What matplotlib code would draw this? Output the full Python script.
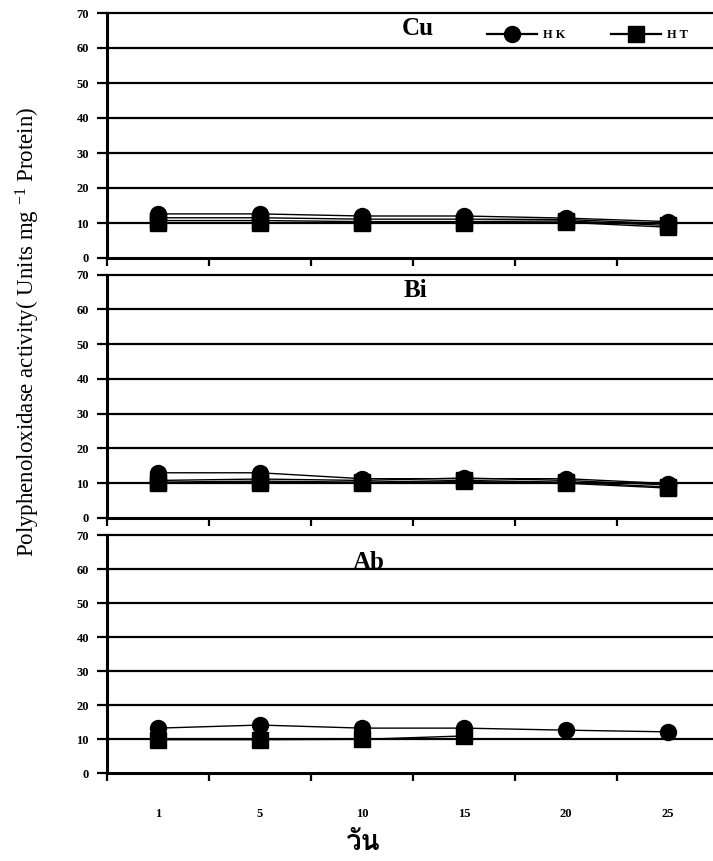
import matplotlib
matplotlib.use("Agg")
import matplotlib.pyplot as plt
from matplotlib import font_manager
from matplotlib.ft2font import FT2Font
from matplotlib.lines import Line2D
import numpy as np

# ---- data -------------------------------------------------------------
days = ["1", "5", "10", "15", "20", "25"]
panels = ["Cu", "Bi", "Ab"]

cu_hk = [12.6, 12.6, 12.0, 12.0, 11.4, 10.4]
cu_hk2 = [11.5, 11.5, 11.1, 11.1, 11.0, 9.8]
cu_ht = [10.7, 10.7, 10.4, 10.4, 10.6, 9.3]
cu_ht2 = [10.0, 10.0, 10.0, 10.0, 10.2, 8.8]

bi_hk = [13.0, 13.0, 11.3, 11.3, 11.3, 9.9]
bi_hk2 = [10.8, 11.2, 10.8, 11.5, 10.8, 9.5]
bi_ht = [10.3, 10.6, 10.3, 10.8, 10.3, 8.9]
bi_ht2 = [10.0, 10.0, 10.0, 10.5, 10.0, 8.6]

ab_hk = [13.2, 14.1, 13.2, 13.2, 12.6, 12.1]
ab_ht = [9.8, 9.8, 9.9, 10.9, np.nan, np.nan]

y_ticks = [0, 10, 20, 30, 40, 50, 60, 70]

# ---- fonts ------------------------------------------------------------
SERIF = "Liberation Serif"
plt.rcParams["font.family"] = [SERIF, "DejaVu Serif"]
plt.rcParams["mathtext.fontset"] = "custom"
plt.rcParams["mathtext.rm"] = SERIF
plt.rcParams["mathtext.it"] = SERIF + ":italic"
plt.rcParams["mathtext.bf"] = SERIF + ":bold"


def find_thai_font():
    for fe in font_manager.fontManager.ttflist:
        try:
            f = FT2Font(fe.fname)
            cmap = f.get_charmap()
            if 0x0E27 in cmap and 0x0E19 in cmap:
                return fe.name
        except Exception:
            continue
    return None


thai_font = find_thai_font()

# ---- figure -----------------------------------------------------------
W, H = 713, 861
fig = plt.figure(figsize=(W / 100, H / 100), dpi=100)

left = 107 / W
width = 612 / W
boxes = [(13, 258), (274.5, 518), (535, 773)]

series = [
    [(cu_hk, "o"), (cu_hk2, "o"), (cu_ht, "s"), (cu_ht2, "s")],
    [(bi_hk, "o"), (bi_hk2, "o"), (bi_ht, "s"), (bi_ht2, "s")],
    [(ab_hk, "o"), (ab_ht, "s")],
]
title_pos = [(2.55, 65.5), (2.52, 65.5), (2.07, 61.8)]

x = np.arange(len(days))
axes = []
for i, (top, bot) in enumerate(boxes):
    ax = fig.add_axes([left, 1 - bot / H, width, (bot - top) / H])
    axes.append(ax)
    ax.set_xlim(-0.5, len(days) - 0.5)
    ax.set_ylim(0, 70)

    for v in y_ticks[1:]:
        ax.axhline(v, color="black", lw=1.6, zorder=1, clip_on=False)

    for vals, mk in series[i]:
        ax.plot(x, vals, color="black", lw=1.0, marker=mk,
                markersize=11.5 if mk == "o" else 11,
                markerfacecolor="black", markeredgecolor="black",
                zorder=3, clip_on=False)

    for s in ["top", "right"]:
        ax.spines[s].set_visible(False)
    ax.spines["left"].set_linewidth(2.2)
    ax.spines["bottom"].set_linewidth(2.2)

    ax.set_yticks(y_ticks)
    ax.set_yticklabels([str(v) for v in y_ticks], fontsize=9, fontweight="bold")
    ax.tick_params(axis="y", direction="out", length=7, width=1.6, pad=6)

    ax.set_xticks(np.arange(-0.5, len(days) - 0.4, 1.0))
    ax.set_xticklabels([])
    ax.tick_params(axis="x", which="major", direction="out", length=6, width=1.6)
    ax.set_xticks(x, minor=True)
    if i == len(boxes) - 1:
        ax.set_xticklabels(days, minor=True, fontsize=9, fontweight="bold")
        ax.tick_params(axis="x", which="minor", length=0, pad=25)
    else:
        ax.tick_params(axis="x", which="minor", length=0, labelbottom=False)

    tx, ty = title_pos[i]
    ax.text(tx, ty, panels[i], fontsize=18, fontweight="bold",
            ha="center", va="center", zorder=4)

# legend on the top panel
handles = [
    Line2D([], [], color="black", lw=1.6, marker="o", markersize=11.5),
    Line2D([], [], color="black", lw=1.6, marker="s", markersize=11),
]
axes[0].legend(handles, ["H K", "H T"], loc="center left",
               bbox_to_anchor=((487 - 107) / 612, (258 - 35) / 245),
               ncol=2, frameon=False, handlelength=4.0, handletextpad=0.5,
               columnspacing=3.6, borderpad=0, borderaxespad=0,
               prop={"family": SERIF, "weight": "bold", "size": 9})

# axis titles
fig.text(28 / W, 1 - 332 / H,
         r"Polyphenoloxidase activity( Units mg $^{\mathrm{-1}}$ Protein)",
         rotation=90, ha="center", va="center", fontsize=16.5)

thai_family = [thai_font, SERIF] if thai_font else [SERIF, "DejaVu Sans"]
fig.text(362 / W, 1 - 843 / H, "วัน", ha="center", va="center",
         fontsize=20, fontweight="bold", family=thai_family)

fig.savefig("out.png", dpi=100)
